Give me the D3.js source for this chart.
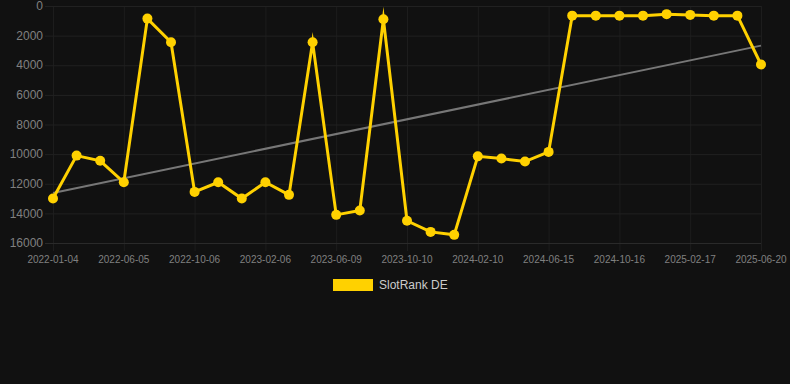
<!DOCTYPE html>
<html>
<head>
<meta charset="utf-8">
<script src="https://cdn.jsdelivr.net/npm/d3@7"></script>
<style>
  html, body { margin: 0; padding: 0; background: #111111; }
  svg { display: block; font-family: "Liberation Sans", Arial, sans-serif; }
</style>
</head>
<body>
<svg id="chart"></svg>
<script>
// dates on the x axis (only every third one is labelled)
const dates = [
  "2022-01-04", "2022-02-24", "2022-04-16", "2022-06-05", "2022-07-26", "2022-08-16",
  "2022-10-06", "2022-11-16", "2022-12-27", "2023-02-06", "2023-03-20", "2023-05-01",
  "2023-06-09", "2023-07-20", "2023-08-30", "2023-10-10", "2023-11-20", "2023-12-31",
  "2024-02-10", "2024-03-22", "2024-05-04", "2024-06-15", "2024-07-26", "2024-09-05",
  "2024-10-16", "2024-11-26", "2025-01-07", "2025-02-17", "2025-03-30", "2025-05-10",
  "2025-06-20"
];
const rank = [
  13000, 10100, 10450, 11900, 850, 2450, 12550, 11900, 13000, 11900, 12750,
  2450, 14100, 13800, 900, 14500, 15250, 15450, 10150, 10300, 10500,
  9850, 650, 650, 650, 650, 550, 600, 650, 650, 3950
];
const yTicks = [0, 2000, 4000, 6000, 8000, 10000, 12000, 14000, 16000];
const seriesName = "SlotRank DE";

const width = 790, height = 384;
const margin = { top: 6, right: 29, bottom: 141, left: 53 };
const yellow = "#ffd100";

const svg = d3.select("#chart")
  .attr("width", width)
  .attr("height", height);

const x = d3.scalePoint()
  .domain(d3.range(dates.length))
  .range([margin.left, width - margin.right]);

const y = d3.scaleLinear()
  .domain([0, 16000])
  .range([margin.top, height - margin.bottom]);

const labelled = d3.range(0, dates.length, 3);

// grid
svg.append("g")
  .selectAll("line")
  .data(labelled)
  .join("line")
  .attr("x1", d => x(d) + 0.5)
  .attr("x2", d => x(d) + 0.5)
  .attr("y1", margin.top)
  .attr("y2", y(16000) + 8)
  .attr("stroke", "#1d1d1d");

svg.append("g")
  .selectAll("line")
  .data(yTicks)
  .join("line")
  .attr("x1", margin.left - 8)
  .attr("x2", width - margin.right)
  .attr("y1", d => y(d) + 0.5)
  .attr("y2", d => y(d) + 0.5)
  .attr("stroke", d => d === 16000 ? "#2a2a2a" : "#212121");

// y labels
svg.append("g")
  .selectAll("text")
  .data(yTicks)
  .join("text")
  .attr("x", margin.left - 10)
  .attr("y", d => y(d))
  .attr("dy", "0.35em")
  .attr("text-anchor", "end")
  .attr("fill", "#808080")
  .style("font-size", "12px")
  .text(d => d);

// x labels
svg.append("g")
  .selectAll("text")
  .data(labelled)
  .join("text")
  .attr("x", d => x(d))
  .attr("y", y(16000) + 20)
  .attr("text-anchor", "middle")
  .attr("fill", "#808080")
  .style("font-size", "10px")
  .text(d => dates[d]);

// trend line (least squares over the points)
const n = rank.length;
const mx = d3.mean(d3.range(n));
const my = d3.mean(rank);
const slope = d3.sum(rank, (v, i) => (i - mx) * (v - my)) / d3.sum(d3.range(n), i => (i - mx) ** 2);
const icpt = my - slope * mx;

svg.append("line")
  .attr("x1", x(0))
  .attr("x2", x(n - 1))
  .attr("y1", y(icpt))
  .attr("y2", y(icpt + slope * (n - 1)))
  .attr("stroke", "#777")
  .attr("stroke-width", 2);

// series
const line = d3.line()
  .x((d, i) => x(i))
  .y(d => y(d));

svg.append("path")
  .datum(rank)
  .attr("d", line)
  .attr("fill", "none")
  .attr("stroke", yellow)
  .attr("stroke-width", 3)
  .attr("stroke-linejoin", "miter")
  .attr("stroke-miterlimit", 10);

svg.append("g")
  .selectAll("circle")
  .data(rank)
  .join("circle")
  .attr("cx", (d, i) => x(i))
  .attr("cy", d => y(d))
  .attr("r", 5)
  .attr("fill", yellow);

// legend
const lg = svg.append("g").attr("transform", "translate(333,279)");
lg.append("rect")
  .attr("width", 40)
  .attr("height", 12)
  .attr("fill", yellow);
lg.append("text")
  .attr("x", 46)
  .attr("y", 6)
  .attr("dy", "0.35em")
  .attr("fill", "#ccc")
  .style("font-size", "12px")
  .text(seriesName);
</script>
</body>
</html>
